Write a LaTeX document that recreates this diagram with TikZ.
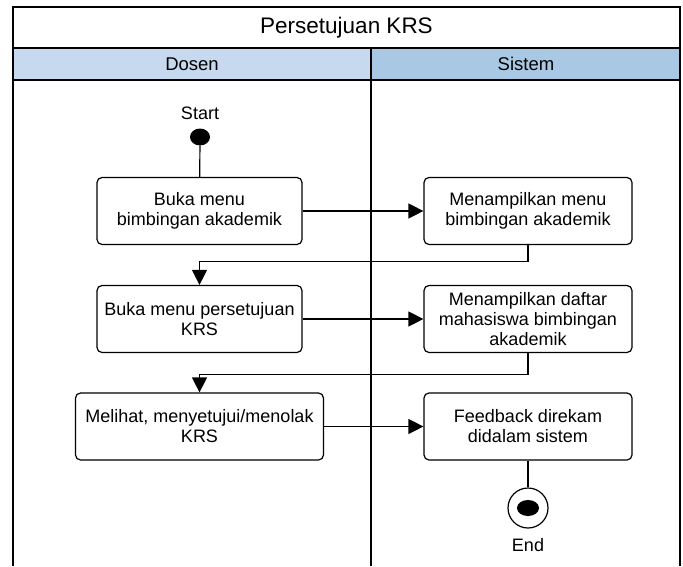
\documentclass[tikz,border=0pt]{standalone}
\usepackage{fontspec}
\setmainfont{Liberation Sans}
\usetikzlibrary{arrows.meta,shapes.geometric}
\definecolor{laneA}{HTML}{C6D9EE}
\definecolor{laneB}{HTML}{A9C8E3}
\begin{document}
\begin{tikzpicture}[x=1pt,y=-1pt,
  frame/.style={draw=black, line width=1.5pt},
  act/.style={draw=black, line width=1.2pt, rounded corners=5pt, fill=white,
    align=center, inner sep=0pt, minimum height=67pt,
    font=\fontsize{18}{20}\selectfont},
  flow/.style={line width=1.2pt, -{Triangle[length=15pt,width=15pt]}},
  link/.style={line width=1.2pt},
  lbl/.style={inner sep=0pt, font=\fontsize{18}{20}\selectfont}]
\useasboundingbox (0,0) rectangle (683,566);

% swimlane frame
\fill[laneA] (13,48) rectangle (371,80);
\fill[laneB] (371,48) rectangle (680,80);
\draw[frame] (13,566) -- (13,7) -- (680,7) -- (680,566);
\draw[frame] (13,48) -- (680,48);
\draw[frame] (13,80) -- (680,80);
\draw[frame] (371,48) -- (371,566);
\node[lbl, font=\fontsize{22.5}{24}\selectfont] (title) at (346.5,28) {Persetujuan KRS};
\node[lbl, font=\fontsize{18.5}{20}\selectfont] (laneDosen) at (192,64) {Dosen};
\node[lbl, font=\fontsize{18.5}{20}\selectfont] (laneSistem) at (526,64) {Sistem};

% start
\node[lbl] (startlbl) at (200,113) {Start};
\node[ellipse, fill=black, inner sep=0pt, minimum width=20pt, minimum height=17pt] (start) at (200,137) {};

% activities
\node[act, minimum width=205pt] (b1) at (199.5,211) {Buka menu\\bimbingan akademik};
\node[act, minimum width=208pt] (b3) at (528,211) {Menampilkan menu\\bimbingan akademik};
\node[act, minimum width=205pt] (b2) at (199.5,319) {Buka menu persetujuan\\KRS};
\node[act, minimum width=208pt] (b4) at (528,319) {Menampilkan daftar\\mahasiswa bimbingan\\akademik};
\node[act, minimum width=248pt] (b5) at (199.5,426.5) {Melihat, menyetujui/menolak\\KRS};
\node[act, minimum width=208pt] (b6) at (528,426.5) {Feedback direkam\\didalam sistem};

% end
\node[circle, draw=black, line width=1.2pt, fill=white, minimum size=40pt, inner sep=0pt] (endc) at (528,508) {};
\node[ellipse, fill=black, inner sep=0pt, minimum width=22pt, minimum height=16pt] (enddot) at (528,508) {};
\node[lbl] (endlbl) at (528,545) {End};

% flows
\draw[link] (start) -- (b1);
\draw[flow] (b1) -- (b3);
\draw[flow] (b3.south) -- ++(0,16) -| (b2.north);
\draw[flow] (b2) -- (b4);
\draw[flow] (b4.south) -- ++(0,21) -| (b5.north);
\draw[flow] (b5) -- (b6);
\draw[link] (b6) -- (endc);
\end{tikzpicture}
\end{document}
